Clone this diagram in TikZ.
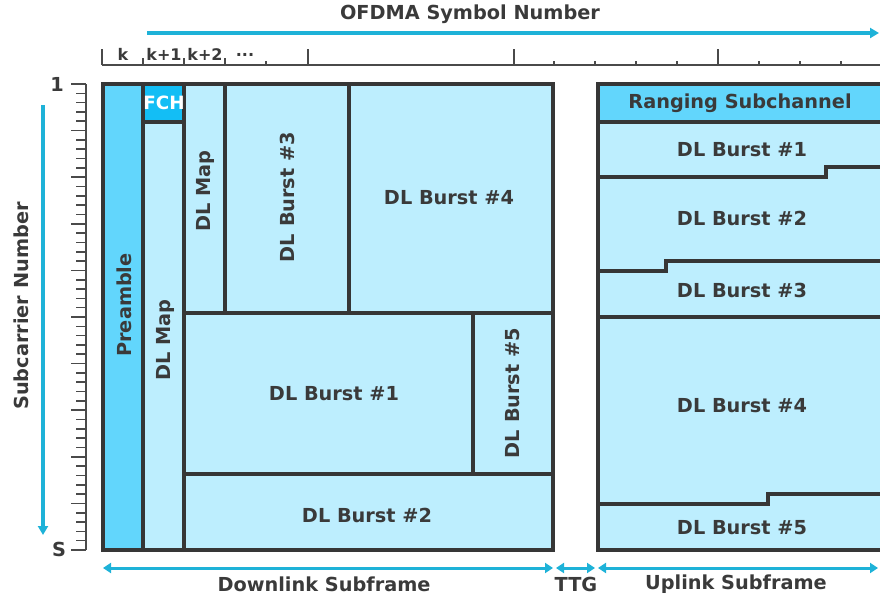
\documentclass[tikz,border=0pt]{standalone}
\usepackage{fontspec}
\setmainfont{DejaVu Sans}
\usetikzlibrary{arrows.meta}
\definecolor{light}{HTML}{BDEEFE}
\definecolor{darkc}{HTML}{62D6FC}
\definecolor{fchc}{HTML}{13BEF5}
\definecolor{arrc}{HTML}{1EB2D8}
\definecolor{edge}{HTML}{363636}
\definecolor{txt}{HTML}{3A3A3A}
\definecolor{tickc}{HTML}{4A4A4A}
\begin{document}
\begin{tikzpicture}[x=1pt,y=-1pt,
  lbl/.style={font=\fontsize{19.3}{22}\selectfont\bfseries, text=txt, inner sep=0pt},
  small/.style={font=\fontsize{16}{18}\selectfont\bfseries, text=txt, inner sep=0pt},
  frame/.style={draw=edge, line width=3.3pt},
  tk/.style={draw=tickc, line width=1.6pt},
  axisarrow/.style={draw=arrc, line width=3.2pt, -{Triangle[length=9pt,width=10pt]}},
  dblarrow/.style={draw=arrc, line width=3pt, {Triangle[length=8pt,width=10pt]}-{Triangle[length=8pt,width=10pt]}}]
\useasboundingbox (0,0) rectangle (880,600);
\clip (0,0) rectangle (880,600);

% ---------- top axis ----------
\node[lbl] (title) at (470,14) {OFDMA Symbol Number};
\coordinate (ta) at (147,33);
\coordinate (tb) at (879,33);
\draw[axisarrow] (ta) -- (tb);
\draw[tk] (102,65) -- (880,65);
\foreach \x in {102,308,514,718} \draw[tk] (\x,49) -- (\x,65);
\foreach \x in {143,184,225} \draw[tk] (\x,58) -- (\x,65);
\foreach \x in {266,554,595,636,677,759,800,841} \draw[tk] (\x,61) -- (\x,65);
\node[small] (k0) at (123,54) {k};
\node[small] (k1) at (164,54) {k+1};
\node[small] (k2) at (205,54) {k+2};
\node[small] (k3) at (245,55) {...};

% ---------- left axis ----------
\draw[tk] (86,84) -- (86,550);
\foreach \i in {0,...,50} {
  \pgfmathsetmacro\yy{84+\i*9.32}
  \pgfmathtruncatemacro\m{mod(\i,5)}
  \ifnum\m=0 \draw[tk] (71,\yy) -- (86,\yy); \else \draw[tk] (76,\yy) -- (86,\yy); \fi
}
\node[lbl] (one) at (57,84) {1};
\node[lbl] (ess) at (59,549) {S};
\coordinate (la) at (43,105);
\coordinate (lb) at (43,535);
\draw[axisarrow] (la) -- (lb);
\node[lbl, rotate=90] (subc) at (21,306) {Subcarrier Number};

% ---------- downlink subframe ----------
\fill[light] (103,84) rectangle (553,550);
\fill[darkc] (103,84) rectangle (143,550);
\fill[fchc] (143,84) rectangle (184,122);
\draw[frame] (143,84) -- (143,550);
\draw[frame] (184,84) -- (184,550);
\draw[frame] (143,122) -- (184,122);
\draw[frame] (184,313) -- (553,313);
\draw[frame] (225,84) -- (225,313);
\draw[frame] (349,84) -- (349,313);
\draw[frame] (473,313) -- (473,474);
\draw[frame] (184,474) -- (553,474);
\draw[frame] (103,84) rectangle (553,550);

\node[lbl, rotate=90] (pre) at (124,305) {Preamble};
\node[lbl, text=white, font=\fontsize{18.3}{20}\selectfont\bfseries] (fch) at (164,103) {FCH};
\node[lbl, rotate=90] (dlmap1) at (165,340) {DL Map};
\node[lbl, rotate=90] (dlmap2) at (205,191) {DL Map};
\node[lbl, rotate=90] (b3) at (287,197) {DL Burst \#3};
\node[lbl] (b4) at (449,198) {DL Burst \#4};
\node[lbl] (b1) at (334,394) {DL Burst \#1};
\node[lbl, rotate=90] (b5) at (513,393) {DL Burst \#5};
\node[lbl] (b2) at (367,515) {DL Burst \#2};

% ---------- uplink subframe ----------
\fill[light] (598,84) rectangle (895,550);
\fill[darkc] (598,84) rectangle (895,122);
\draw[frame] (598,122) -- (895,122);
\draw[frame] (598,177) -- (826,177) -- (826,167) -- (895,167);
\draw[frame] (598,271) -- (666,271) -- (666,261) -- (895,261);
\draw[frame] (598,317) -- (895,317);
\draw[frame] (598,504) -- (768,504) -- (768,494) -- (895,494);
\draw[frame] (598,84) rectangle (895,550);

\node[lbl] (rng) at (740,103) {Ranging Subchannel};
\node[lbl] (u1) at (742,150) {DL Burst \#1};
\node[lbl] (u2) at (742,218) {DL Burst \#2};
\node[lbl] (u3) at (742,290) {DL Burst \#3};
\node[lbl] (u4) at (742,406) {DL Burst \#4};
\node[lbl] (u5) at (742,528) {DL Burst \#5};

% ---------- bottom arrows ----------
\coordinate (da) at (103,568);
\coordinate (db) at (553,568);
\coordinate (ga) at (556,568);
\coordinate (gb) at (595,568);
\coordinate (ua) at (598,568);
\coordinate (ub) at (878,568);
\draw[dblarrow] (da) -- (db);
\draw[dblarrow] (ga) -- (gb);
\draw[dblarrow] (ua) -- (ub);
\node[lbl] (dls) at (324,584) {Downlink Subframe};
\node[lbl] (ttg) at (576,584) {TTG};
\node[lbl] (uls) at (736,584) {Uplink Subframe};
\end{tikzpicture}
\end{document}
